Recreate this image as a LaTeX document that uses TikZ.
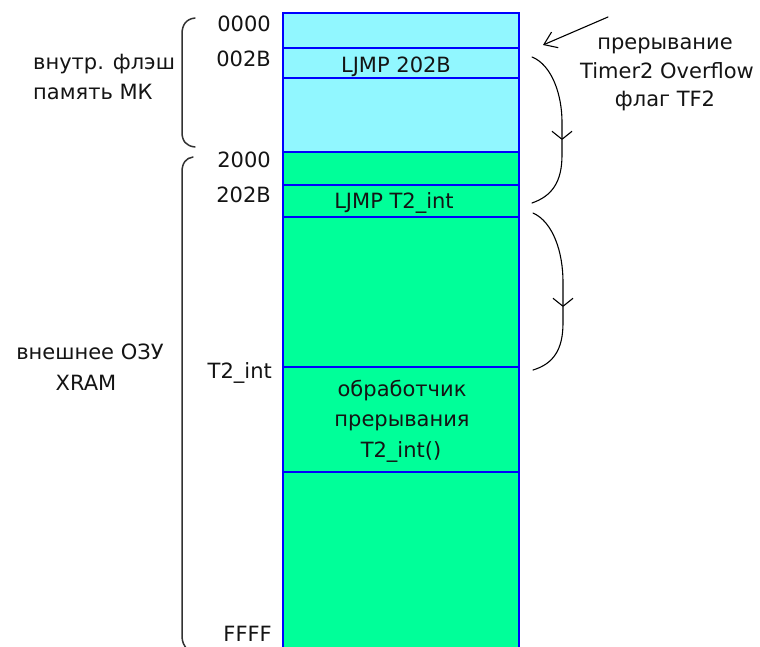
\documentclass[tikz,border=0pt]{standalone}
\usepackage{fontspec}
\setmainfont{DejaVu Sans}
\usetikzlibrary{arrows.meta}
\definecolor{cyanfill}{RGB}{145,247,255}
\definecolor{greenfill}{RGB}{0,255,153}
\definecolor{cellblue}{RGB}{0,0,255}
\definecolor{ink}{RGB}{20,20,20}
\definecolor{bracketgray}{RGB}{50,50,50}
\begin{document}
\begin{tikzpicture}[x=1pt,y=-1pt,
  txt/.style={font=\fontsize{21}{25}\selectfont, text=ink, inner sep=0pt},
  cell/.style={draw=cellblue, line width=1.6pt, minimum width=236pt, anchor=north west, inner sep=0pt, outer sep=0pt},
  bracket/.style={draw=bracketgray, line width=1.5pt, line cap=round},
  flow/.style={draw=black, line width=1.1pt, line cap=round},
  barb/.style={-{Straight Barb[length=8pt,width=20pt,line width=1.1pt]}}]
\clip (0,0) rectangle (760,647);
\fill[white] (0,0) rectangle (760,647);
% memory cells
\node[cell, fill=cyanfill,  minimum height=35pt]  (c1) at (283,13)  {};
\node[cell, fill=cyanfill,  minimum height=30pt]  (c2) at (283,48)  {};
\node[cell, fill=cyanfill,  minimum height=74pt]  (c3) at (283,78)  {};
\node[cell, fill=greenfill, minimum height=33pt]  (c4) at (283,152) {};
\node[cell, fill=greenfill, minimum height=32pt]  (c5) at (283,185) {};
\node[cell, fill=greenfill, minimum height=150pt] (c6) at (283,217) {};
\node[cell, fill=greenfill, minimum height=105pt] (c7) at (283,367) {};
\node[cell, fill=greenfill, minimum height=220pt] (c8) at (283,472) {};
% cell texts
\node[txt, anchor=base] (t1) at (396,73) {LJMP 202B};
\node[txt, anchor=base] (t2) at (394,208) {LJMP T2\_int};
\node[txt, anchor=base] (t3a) at (402,396) {обработчик};
\node[txt, anchor=base] (t3b) at (402,426) {прерывания};
\node[txt, anchor=base] (t3c) at (401,457) {T2\_int()};
% addresses
\node[txt, anchor=base east] (a1) at (271,32)  {0000};
\node[txt, anchor=base east] (a2) at (271,67)  {002B};
\node[txt, anchor=base east] (a3) at (271,168) {2000};
\node[txt, anchor=base east] (a4) at (271,203) {202B};
\node[txt, anchor=base east] (a5) at (272,378) {T2\_int};
\node[txt, anchor=base east] (a6) at (272,641) {FFFF};
% region labels
\node[txt, anchor=base west] (l1a) at (33,70)  {внутр. флэш};
\node[txt, anchor=base west] (l1b) at (33,100) {память МК};
\node[txt, anchor=base] (l2a) at (90,359) {внешнее ОЗУ};
\node[txt, anchor=base] (l2b) at (86,390) {XRAM};
% interrupt label
\node[txt, anchor=base] (i1) at (665,50)  {прерывание};
\node[txt, anchor=base] (i2) at (667,79)  {Timer2 Overflow};
\node[txt, anchor=base] (i3) at (665,107) {флаг TF2};
% brackets
\draw[bracket] (195,18) .. controls (186,19) and (182,25) .. (182,34) -- (182,132)
  .. controls (182,141) and (186,146) .. (195,147);
\draw[bracket] (193,157) .. controls (186,158) and (182,163) .. (182,172) -- (182,636)
  .. controls (182,642) and (184,646) .. (188,650);
% flow arrows
\coordinate (s0) at (608,17);
\coordinate (e0) at (543,45);
\draw[flow, -{Straight Barb[length=12pt,width=17pt,line width=1.1pt]}] (s0) -- (e0);
\coordinate (s1) at (532,57);
\coordinate (m1) at (562,140);
\coordinate (e1) at (532,203);
\draw[flow, barb] (s1) .. controls (552,65) and (562,95) .. (562,122) -- (m1);
\draw[flow] (m1) -- (562,155) .. controls (562,182) and (552,196) .. (e1);
\coordinate (s2) at (533,213);
\coordinate (m2) at (563,307);
\coordinate (e2) at (533,370);
\draw[flow, barb] (s2) .. controls (553,222) and (563,252) .. (563,282) -- (m2);
\draw[flow] (m2) -- (563,323) .. controls (563,350) and (553,364) .. (e2);
\end{tikzpicture}
\end{document}
